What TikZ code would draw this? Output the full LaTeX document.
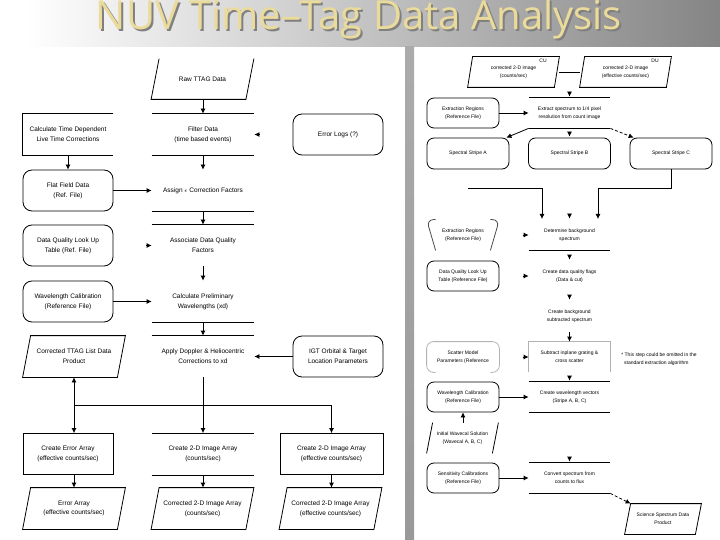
\documentclass[tikz,border=0pt]{standalone}
\usepackage{fontspec}
\setmainfont{Liberation Sans}
\newfontfamily\titlefont{Open Sans}
\usetikzlibrary{arrows.meta}
\definecolor{titlegold}{HTML}{EBDB9B}
\newcommand{\boxfont}{\fontsize{6.5}{9.8}\selectfont}
\newcommand{\tinyfont}{\fontsize{5}{7.6}\selectfont}
\newcommand{\slanted}[2]{\draw ([xshift=#2]#1.north west) -- (#1.north east) -- ([xshift=-#2]#1.south east) -- (#1.south west) -- cycle;}
\tikzset{
  base/.style={inner sep=0pt,align=center,font=\boxfont},
  procbox/.style={base,rectangle,minimum width=102pt,minimum height=41pt},
  refbox/.style={base,rectangle,rounded corners=9pt,draw,minimum width=90pt,minimum height=41pt},
  plainbox/.style={base,rectangle,draw,minimum height=41pt},
  databox/.style={procbox},
  rproc/.style={base,font=\tinyfont,rectangle,minimum width=81pt,minimum height=30pt},
  rref/.style={base,font=\tinyfont,rectangle,rounded corners=7pt,draw,minimum width=72pt,minimum height=30pt},
  rstripe/.style={rref,minimum width=82pt,minimum height=31pt},
  rdata/.style={base,font=\tinyfont,rectangle,minimum width=91pt,minimum height=30pt},
}
\begin{document}
\begin{tikzpicture}[x=1pt,y=-1pt,line width=0.8pt,>={Latex[length=5pt,width=5pt]}]
  \useasboundingbox (0,0) rectangle (720,540);
  \fill[white] (0,0) rectangle (720,540);
  % banner and bar
  \shade[left color=white,middle color=black!28,right color=black!48] (25,0) rectangle (720,47);
  \shade[top color=black!33,middle color=black!22,bottom color=black!40,draw=none] (405,47) rectangle (414,540);
  \node[font=\titlefont\fontsize{40}{40}\selectfont,text=black!50,anchor=base] (titleback) at (361,32) {NUV Time–Tag Data Analysis};
  \node[font=\titlefont\fontsize{40}{40}\selectfont,text=titlegold,anchor=base] (title) at (359,30) {NUV Time–Tag Data Analysis};

  % left flow, centre column
  \node[databox,minimum height=40pt] (raw) at (202.5,79) {Raw TTAG Data};
  \node[procbox] (filter) at (203,134.5) {Filter Data\\(time based events)};
  \node[procbox] (assign) at (203,190.5) {Assign  \(\epsilon\) Correction Factors};
  \node[procbox] (assoc) at (203,245.5) {Associate Data Quality\\Factors};
  \node[procbox] (prelim) at (203,301.5) {Calculate Preliminary\\Wavelengths (xd)};
  \node[procbox] (doppler) at (203,356.5) {Apply Doppler \& Heliocentric\\Corrections to xd};
  \node[procbox] (image) at (203,454) {Create 2-D Image Array\\(counts/sec)};
  \node[databox] (imgout) at (202.5,508.5) {Corrected 2-D Image Array\\(counts/sec)};

  % left flow, left column
  \node[procbox,minimum width=90pt] (timecorr) at (68,134.5) {Calculate Time Dependent\\Live Time Corrections};
  \node[refbox] (flat) at (68,190.5) {Flat Field Data\\(Ref. File)};
  \node[refbox] (dqtable) at (68,245.5) {Data Quality Look Up\\Table (Ref. File)};
  \node[refbox] (wavecal) at (68,301.5) {Wavelength Calibration\\(Reference File)};
  \node[databox] (ttag) at (74,356.5) {Corrected TTAG List Data\\Product};
  \node[plainbox,minimum width=90pt] (error) at (68,454) {Create Error Array\\(effective counts/sec)};
  \node[databox] (errout) at (74,508.5) {Error Array\\(effective counts/sec)};

  % left flow, right column
  \node[refbox] (logs) at (338,134.5) {Error Logs (?)};
  \node[refbox] (orbit) at (338,356.5) {IGT Orbital \& Target\\Location Parameters};
  \node[plainbox,minimum width=103pt] (effimage) at (331.5,454) {Create 2-D Image Array\\(effective counts/sec)};
  \node[databox] (effout) at (330.5,508.5) {Corrected 2-D Image Array\\(effective counts/sec)};
  \coordinate (junction) at (203,405);

  \draw ([xshift=8pt]raw.north west) -- (raw.south west) -- ([xshift=-8pt]raw.south east) -- (raw.north east);
  \draw (timecorr.north east) -- (timecorr.north west) -- (timecorr.south west) -- (timecorr.south east);
  \foreach \n in {filter,image} {
    \draw (\n.north west) -- (\n.north east);
    \draw (\n.south west) -- (\n.south east);
  }
  \foreach \n in {assign,prelim} \draw (\n.south west) -- (\n.south east);
  \foreach \n in {assoc,doppler} \draw (\n.north west) -- (\n.north east);
  \foreach \n in {ttag,errout,imgout,effout} {
    \slanted{\n}{8pt}
  }

  \foreach \a/\b in {filter/assign,assign/assoc,assoc/prelim,prelim/doppler} {
    \draw[->] (\a.south) -- (\b.north);
  }
  \draw[->] (raw.south -| filter.north) -- (filter.north);
  \draw[->] (timecorr.south) -- (flat.north);
  \draw[->] (flat.east) -- (assign.west);
  \draw[->] (wavecal.east) -- (prelim.west);
  \draw[->] (orbit.west) -- (doppler.east);
  \draw[->] ([xshift=5pt]filter.east) -- (filter.east);
  \draw[->] ([xshift=-6pt]assoc.west) -- (assoc.west);
  \draw[->] (doppler.south) -- (image.north);
  \draw (junction -| ttag) -- (junction -| effimage);
  \draw[<->] (ttag.south) -- (ttag.south |- error.north);
  \draw[->] (junction -| effimage) -- (effimage.north);
  \draw[->] (ttag.south |- error.south) -- (ttag.south |- errout.north);
  \draw[->] (image.south) -- (image.south |- imgout.north);
  \draw[->] (effimage.south) -- (effimage.south |- effout.north);

  % right flow
  \node[rdata] (cu) at (513.5,72) {corrected 2-D image\\(counts/sec)};
  \node[rdata] (du) at (625.5,72) {corrected 2-D image\\(effective counts/sec)};
  \node[font=\tinyfont,inner sep=0pt] (culabel) at (543,61) {CU};
  \node[font=\tinyfont,inner sep=0pt] (dulabel) at (655,61) {DU};
  \node[rproc] (extract) at (569.5,113) {Extract spectrum to 1/4 pixel\\resolution from count image};
  \node[rref] (regions) at (463,113) {Extraction Regions\\(Reference File)};
  \node[rstripe] (stripea) at (468,153.5) {Spectral Stripe A};
  \node[rstripe] (stripeb) at (569.5,153.5) {Spectral Stripe B};
  \node[rstripe] (stripec) at (671,153.5) {Spectral Stripe C};
  \node[rproc] (backgr) at (569.5,235) {Determine background\\spectrum};
  \node[rref,draw=none] (regionsb) at (463,235) {Extraction Regions\\(Reference File)};
  \node[rproc] (flags) at (569.5,276) {Create data quality flags\\(Data \& cut)};
  \node[rref] (dqfile) at (463,276) {Data Quality Look Up\\Table (Reference File)};
  \node[rproc] (backsub) at (569.5,316) {Create background\\subtracted spectrum};
  \node[rproc] (subtract) at (569.5,357) {Subtract inplane grating \&\\cross scatter};
  \node[rref,draw=none] (scatter) at (463,357) {Scatter Model\\Parameters (Reference};
  \node[font=\tinyfont,align=left,inner sep=0pt] (note) at (659,359) {* This step could be omitted in the\\\ \ standard extraction algorithm};
  \node[rproc] (vectors) at (569.5,397) {Create wavelength vectors\\(Stripe A, B, C)};
  \node[rref] (wavefile) at (463,397) {Wavelength Calibration\\(Reference File)};
  \node[rdata,minimum width=71pt] (initial) at (462.5,438) {Initial Wavecal Solution\\(Wavecal A, B, C)};
  \node[rproc] (convert) at (569.5,478) {Convert spectrum from\\counts to flux};
  \node[rref] (sensfile) at (463,478) {Sensitivity Calibrations\\(Reference File)};
  \node[rdata,minimum width=76pt] (science) at (663,519) {Science Spectrum Data\\Product};

  \foreach \n in {cu,du} {
    \slanted{\n}{5pt}
  }
  \foreach \n in {extract,vectors,convert} {
    \draw (\n.north west) -- (\n.north east);
    \draw (\n.south west) -- (\n.south east);
  }
  \draw (backgr.south west) -- (backgr.south east);
  \draw[black!30] (subtract.south west) -- (subtract.north west) -- (subtract.north east) -- (subtract.south east);
  \draw[black!30,rounded corners=7pt] ([xshift=9pt]scatter.south west) -- (scatter.south west) -- (scatter.north west)
    -- (scatter.north east) -- (scatter.south east) -- ([xshift=-9pt]scatter.south east);
  \draw[black!70,rounded corners=7pt] ([xshift=9pt]regionsb.north west) -- (regionsb.north west) -- ([xshift=9pt]regionsb.south west);
  \draw[black!70,rounded corners=7pt] ([xshift=-9pt]regionsb.north east) -- (regionsb.north east) -- ([xshift=-9pt]regionsb.south east);
  \draw ([xshift=6pt]initial.north west) -- (initial.south west);
  \draw (initial.north east) -- ([xshift=-6pt]initial.south east);
  \slanted{science}{6pt}

  \draw (cu.east) -- (du.west);
  \draw[->] (regions.east) -- (extract.west);
  \draw[->] (wavefile.east) -- (vectors.west);
  \draw[->] (sensfile.east) -- (convert.west);
  \draw[->] (initial.north -| wavefile.south) -- (wavefile.south);
  \draw[->] (extract.south west) -- ([xshift=-3pt]stripea.north east);
  \draw[->,densely dashed] (extract.south east) -- ([xshift=4pt]stripec.north west);
  \draw[->] (stripea.south |- 0,188) -- (542,188) -- (542,219);
  \draw[->] (stripec.south) |- (598,188) -- (598,219);
  % only the heads of these show
  \foreach \n in {extract,stripeb,backgr,flags,backsub,vectors,convert} {
    \draw[->] ([yshift=6pt]\n.north) -- ([yshift=1pt]\n.north);
  }
  \draw[->] (569.5,332) -- (subtract.north);
  \foreach \n in {backgr,flags,subtract} {
    \draw[->] ([xshift=-6pt]\n.west) -- (\n.west);
  }
  \draw[->,densely dashed] (convert.south east) -- ([xshift=6pt]science.north west);
\end{tikzpicture}
\end{document}
